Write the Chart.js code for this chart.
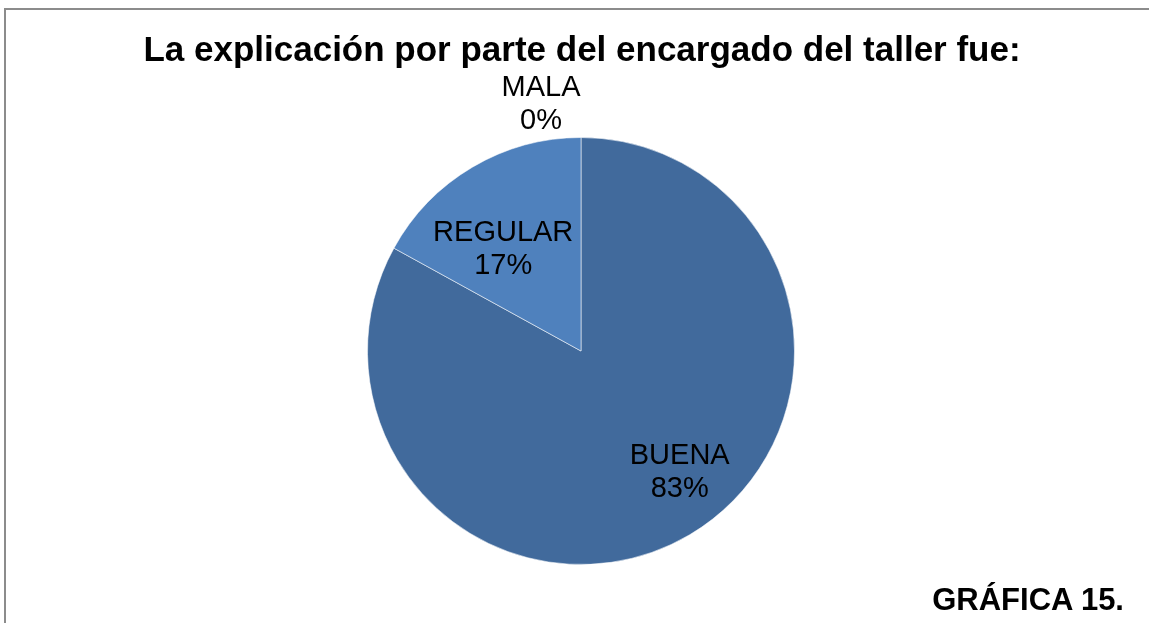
<!DOCTYPE html>
<html>
<head>
<meta charset="utf-8">
<script src="https://cdn.jsdelivr.net/npm/chart.js@4.4.1/dist/chart.umd.min.js"></script>
<style>
  html, body { margin: 0; padding: 0; background: #fff; overflow: hidden; }
  #wrap { position: relative; width: 1149px; height: 623px; }
  #frame {
    position: absolute; left: 4px; top: 8px; width: 1200px; height: 700px;
    border: 2px solid #8c8c8c; box-sizing: border-box;
  }
  #chart { position: absolute; left: 0; top: 0; }
  #title {
    position: absolute; left: 0; top: 29px; width: 1164px; text-align: center;
    font: bold 35px "Liberation Sans", Arial, sans-serif; color: #000; line-height: 40px;
  }
  #note {
    position: absolute; right: 25px; top: 582px; line-height: 36px;
    font: bold 31px "Liberation Sans", Arial, sans-serif; color: #000;
  }
</style>
</head>
<body>
<div id="wrap">
  <div id="frame"></div>
  <canvas id="chart" width="1149" height="623"></canvas>
  <div id="title">La explicación por parte del encargado del taller fue:</div>
  <div id="note">GRÁFICA 15.</div>
</div>
<script>
// Chart data
const CATEGORIES = ["BUENA", "REGULAR", "MALA"];
const PERCENTS = [83, 17, 0];
const SLICE_COLORS = ["#416A9C", "#4F81BD", "#C0504D"];

// Where each label sits: fraction of radius and angle shift (deg) from slice middle
const LABEL_PLACE = [
  { frac: 0.73, shift: -8.7 },
  { frac: 0.6, shift: -6.8 },
  { frac: 1.17, shift: -9.2 },
];

// Draw "NAME / xx%" labels on each slice
const sliceLabels = {
  id: "sliceLabels",
  afterDatasetsDraw(chart) {
    const ctx = chart.ctx;
    const arcs = chart.getDatasetMeta(0).data;
    ctx.save();
    ctx.font = '29px "Liberation Sans", Arial, sans-serif';
    ctx.fillStyle = "#000";
    ctx.textAlign = "center";
    ctx.textBaseline = "middle";
    arcs.forEach((arc, i) => {
      const p = arc.getProps(["x", "y", "startAngle", "endAngle", "outerRadius"], true);
      const place = LABEL_PLACE[i];
      const ang = (p.startAngle + p.endAngle) / 2 + (place.shift * Math.PI) / 180;
      const r = p.outerRadius * place.frac;
      const cx = p.x + Math.cos(ang) * r;
      const cy = p.y + Math.sin(ang) * r;
      ctx.fillText(CATEGORIES[i], cx, cy - 16);
      ctx.fillText(PERCENTS[i] + "%", cx, cy + 17);
    });
    ctx.restore();
  },
};

new Chart(document.getElementById("chart"), {
  type: "pie",
  data: {
    labels: CATEGORIES,
    datasets: [
      {
        data: PERCENTS,
        backgroundColor: SLICE_COLORS,
        borderColor: "rgba(255,255,255,0.55)",
        borderWidth: 1,
      },
    ],
  },
  options: {
    responsive: false,
    animation: false,
    layout: { padding: { top: 137, bottom: 58, left: 367, right: 354 } },
    plugins: {
      legend: { display: false },
      tooltip: { enabled: false },
      title: { display: false },
    },
  },
  plugins: [sliceLabels],
});
</script>
</body>
</html>
